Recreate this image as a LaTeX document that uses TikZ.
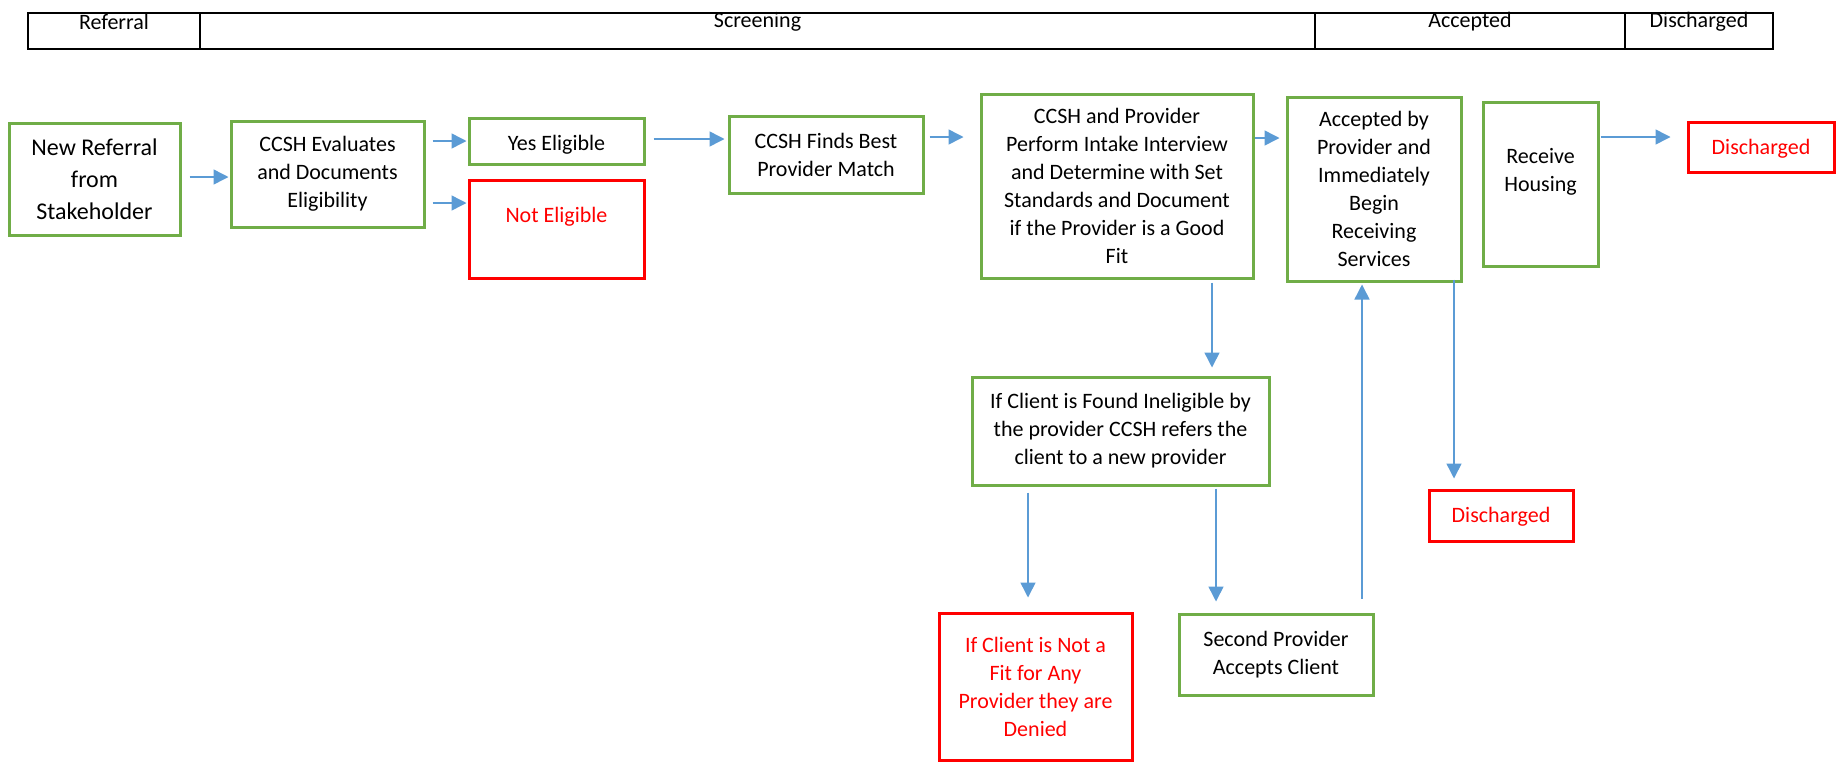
\documentclass[tikz,border=0pt]{standalone}
\usepackage{fontspec}
\setmainfont{Carlito}
\usetikzlibrary{arrows.meta}
\definecolor{boxgreen}{HTML}{70AD47}
\definecolor{boxred}{HTML}{FF0000}
\definecolor{flowblue}{HTML}{5B9BD5}
\tikzset{
  gbox/.style={draw=boxgreen, line width=1.5pt, align=center, inner sep=0pt,
    font=\fontsize{11}{14}\selectfont},
  rbox/.style={gbox, draw=boxred, text=boxred},
  flow/.style={draw=flowblue, line width=0.75pt, -{Triangle[length=7.5pt,width=7.5pt]}},
  hdr/.style={inner sep=0pt, font=\fontsize{11}{14}\selectfont},
}
\begin{document}
\begin{tikzpicture}[x=0.5pt,y=-0.5pt]
\useasboundingbox (0,0) rectangle (1836,761);
% phase table along the top
\draw[line width=1pt] (28,13) rectangle (1773,49);
\foreach \xx in {200,1315,1625}
  \draw[line width=1pt] (\xx,13) -- (\xx,49);
\node[hdr] (hreferral) at (114,22) {Referral};
\node[hdr] (hscreening) at (757.5,22) {Screening};
\node[hdr] (haccepted) at (1470,22) {Accepted};
\node[hdr] (hdischarged) at (1699,22) {Discharged};

% steps
\node[gbox, minimum width=85.5pt, minimum height=56pt, font=\fontsize{12}{16}\selectfont]
  (newref) at (94.5,179) {New Referral\\from\\Stakeholder};
\node[gbox, minimum width=96.5pt, minimum height=53pt]
  (evaluate) at (327.5,174) {CCSH Evaluates\\and Documents\\Eligibility};
\node[gbox, minimum width=87.5pt, minimum height=23pt, text height=11pt]
  (yes) at (556.5,141) {Yes Eligible};
\node[rbox, minimum width=87.5pt, minimum height=49pt]
  (noteligible) at (556.5,229) {Not Eligible\\[-4pt]\strut};
\node[gbox, minimum width=97pt, minimum height=38.5pt]
  (match) at (826,154.5) {CCSH Finds Best\\Provider Match};
\node[gbox, minimum width=136pt, minimum height=92pt]
  (intake) at (1117,186) {CCSH and Provider\\Perform Intake Interview\\and Determine with Set\\Standards and Document\\if the Provider is a Good\\Fit};
\node[gbox, minimum width=87pt, minimum height=92pt]
  (accepted) at (1374,189) {Accepted by\\Provider and\\Immediately\\Begin\\Receiving\\Services};
\node[gbox, minimum width=57.5pt, minimum height=82pt]
  (housing) at (1540.5,184) {Receive\\Housing\\[-4pt]\strut};
\node[rbox, minimum width=73pt, minimum height=25pt, text height=9pt]
  (dischA) at (1761,147) {Discharged};
\node[gbox, minimum width=148.5pt, minimum height=54pt]
  (refer) at (1120.5,431) {If Client is Found Ineligible by\\the provider CCSH refers the\\client to a new provider};
\node[rbox, minimum width=72pt, minimum height=25.5pt, text height=9pt]
  (dischB) at (1501,515.5) {Discharged};
\node[rbox, minimum width=96.5pt, minimum height=73.5pt]
  (denied) at (1035.5,686.5) {If Client is Not a\\Fit for Any\\Provider they are\\Denied};
\node[gbox, minimum width=97pt, minimum height=40.5pt]
  (second) at (1276,654.5) {Second Provider\\Accepts Client};

% arrows
\draw[flow] ([shift={(8,-2)}]newref.east) -- ([shift={(-1,3)}]evaluate.west);
\draw[flow] ([shift={(7,-33)}]evaluate.east) -- ([shift={(-1,0)}]yes.west);
\draw[flow] ([shift={(7,29)}]evaluate.east) -- ([shift={(-1,-26)}]noteligible.west);
\draw[flow] ([shift={(8,-2)}]yes.east) -- ([shift={(-3,-15.5)}]match.west);
\draw[flow] ([shift={(5,-17.5)}]match.east) -- ([shift={(-16,-49)}]intake.west);
\draw[flow] ([shift={(0,-48)}]intake.east) -- ([shift={(-6,-51)}]accepted.west);
\draw[flow] ([shift={(1,-47)}]housing.east) -- ([shift={(-16,-10)}]dischA.west);
\draw[flow] ([shift={(80,-3)}]accepted.south) -- ([shift={(-47,-10)}]dischB.north);
\draw[flow] ([shift={(95,3)}]intake.south) -- ([shift={(91.5,-8)}]refer.north);
\draw[flow] ([shift={(-92.5,6)}]refer.south) -- ([shift={(-7.5,-14)}]denied.north);
\draw[flow] ([shift={(95.5,2)}]refer.south) -- ([shift={(-60,-11)}]second.north);
\draw[flow] ([shift={(86,-14)}]second.north) -- ([shift={(-12,2)}]accepted.south);
\end{tikzpicture}
\end{document}
